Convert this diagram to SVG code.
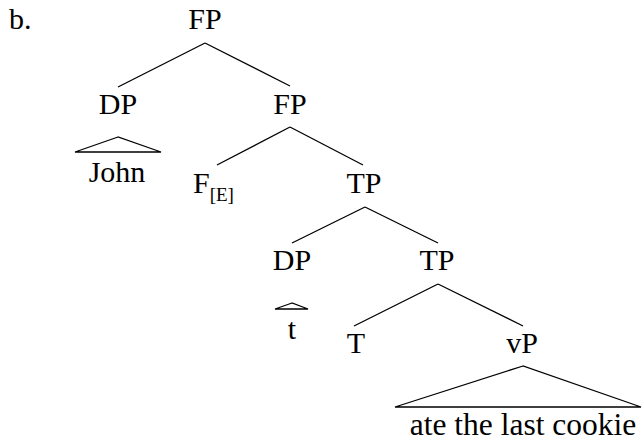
<svg xmlns="http://www.w3.org/2000/svg" width="642" height="442" viewBox="0 0 642 442">
<rect width="642" height="442" fill="#ffffff"/>
<text x="9" y="29" font-family="Times New Roman" font-size="30">b.</text>
<g id="connectors" stroke="#000" stroke-width="1.3" fill="none">
<line x1="205" y1="43" x2="118" y2="87"/>
<line x1="205" y1="43" x2="290" y2="86"/>
<line x1="290" y1="127" x2="217" y2="165"/>
<line x1="290" y1="127" x2="363" y2="165"/>
<line x1="365" y1="207" x2="292" y2="243"/>
<line x1="365" y1="207" x2="438" y2="243"/>
<line x1="438" y1="284" x2="354" y2="326"/>
<line x1="438" y1="284" x2="523" y2="326"/>
</g>
<g id="FP1"><text x="205" y="29" text-anchor="middle" font-family="Times New Roman" font-size="30">FP</text></g>
<g id="DP1"><text x="118" y="114" text-anchor="middle" font-family="Times New Roman" font-size="30">DP</text></g>
<g id="John"><polygon points="118,137 75,152 161,152" stroke="#000" stroke-width="1.3" fill="none"/><text x="117" y="182" text-anchor="middle" font-family="Times New Roman" font-size="30">John</text></g>
<g id="FP2"><text x="290" y="114" text-anchor="middle" font-family="Times New Roman" font-size="30">FP</text></g>
<g id="FE"><text x="193" y="193" font-family="Times New Roman" font-size="30">F<tspan dy="8" font-size="19">[E]</tspan></text></g>
<g id="TP1"><text x="364" y="193" text-anchor="middle" font-family="Times New Roman" font-size="30">TP</text></g>
<g id="DP2"><text x="292" y="270" text-anchor="middle" font-family="Times New Roman" font-size="30">DP</text></g>
<g id="t"><polygon points="292,303 275,309 308,309" stroke="#000" stroke-width="1.3" fill="none"/><text x="292" y="339" text-anchor="middle" font-family="Times New Roman" font-size="30">t</text></g>
<g id="TP2"><text x="437" y="270" text-anchor="middle" font-family="Times New Roman" font-size="30">TP</text></g>
<g id="T"><text x="356" y="353" text-anchor="middle" font-family="Times New Roman" font-size="30">T</text></g>
<g id="vP"><polygon points="523,366 395,407 641,407" stroke="#000" stroke-width="1.3" fill="none"/><text x="522" y="353" text-anchor="middle" font-family="Times New Roman" font-size="30">vP</text><text x="523" y="435" text-anchor="middle" font-family="Times New Roman" font-size="31.5">ate the last cookie</text></g>
</svg>
